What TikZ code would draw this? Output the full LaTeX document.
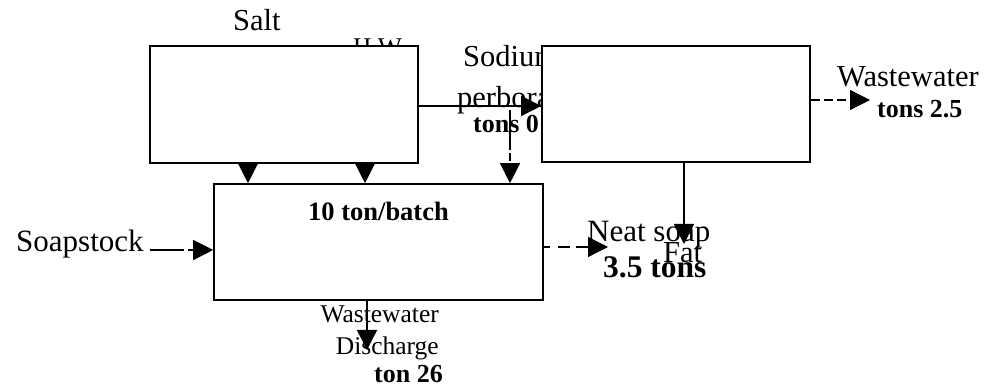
\documentclass[tikz,border=0pt]{standalone}
\usepackage{fontspec}
\setmainfont{Liberation Serif}
\usetikzlibrary{arrows.meta}
\begin{document}
\begin{tikzpicture}[x=1pt,y=-1pt,
  box/.style={draw,line width=1.6pt,fill=white,minimum width=#1,inner sep=0pt},
  lbl/.style={inner sep=0pt,font=\fontsize{30.5}{32}\selectfont},
  slbl/.style={inner sep=0pt,font=\fontsize{25.5}{27}\selectfont},
  blbl/.style={inner sep=0pt,font=\fontsize{26}{28}\selectfont\bfseries},
  arr/.style={line width=1.3pt,-{Triangle[length=20pt,width=20pt]}},
  dsh/.style={dash pattern=on 9pt off 4pt}]
\useasboundingbox (0,0) rectangle (989,390);
% texts hidden behind boxes
\node[slbl,anchor=base west] (hw) at (353,56) {H.W};
\node[lbl,anchor=base west] (sod1) at (463,67) {Sodium};
\node[lbl,anchor=base west] (sod2) at (457,108) {perborate};
% boxes
\node[box=268pt,minimum height=117pt] (b1) at (284,104.5) {};
\node[box=268pt,minimum height=116pt] (b2) at (676,104) {};
\node[box=329pt,minimum height=116pt] (b3) at (378.5,242) {};
% labels
\node[lbl,anchor=base west] (salt) at (233,31) {Salt};
\node[blbl,anchor=base west] (sod3) at (473,133) {tons 0};
\node[lbl,anchor=base west] (ww1) at (837,87) {Wastewater};
\node[blbl,anchor=base west] (ww1t) at (877,118) {tons 2.5};
\node[font=\fontsize{26.5}{28}\selectfont\bfseries,inner sep=0pt,anchor=base west] (cap) at (308,221) {10 ton/batch};
\node[lbl,anchor=base west,font=\fontsize{31}{32}\selectfont] (soap) at (16,252) {Soapstock};
\node[lbl,anchor=base west,font=\fontsize{31}{32}\selectfont] (neat) at (587,242) {Neat soap};
\node[inner sep=0pt,anchor=base west,font=\fontsize{31.5}{33}\selectfont\bfseries] (neatt) at (603,278) {3.5 tons};
\node[lbl,anchor=base west] (fat) at (663,263) {Fat};
\node[slbl,anchor=base east] (ww2) at (439,323) {Wastewater};
\node[slbl,anchor=base east] (ww2b) at (439,355) {Discharge};
\node[blbl,anchor=base east] (ww2t) at (443,382) {ton 26};
% coordinates
\coordinate (c1) at (248,0);
\coordinate (c2) at (365,0);
\coordinate (c3) at (510,110);
\coordinate (c4) at (684,0);
\coordinate (fatend) at (684,244);
\coordinate (wwend) at (870,100);
\coordinate (neatend) at (608,247);
\coordinate (soapstart) at (150,250);
\coordinate (disend) at (367,350);
\coordinate (y106) at (0,106);
% connectors
\draw[arr] (c1 |- b1.south) -- (c1 |- b3.north);
\draw[arr] (c2 |- b1.south) -- (c2 |- b3.north);
\draw[arr] (b1.east |- y106) -- (b2.west |- y106);
\draw[arr,dash pattern=on 40pt off 3pt on 8pt off 4pt on 8pt off 3pt] (c3) -- (c3 |- b3.north);
\draw[arr,dsh] (b2.east |- wwend) -- (wwend);
\draw[arr] (c4 |- b2.south) -- (fatend);
\draw[arr,dash pattern=on 34pt off 4pt on 100pt] (soapstart) -- (b3.west |- soapstart);
\draw[arr,dash pattern=on 6pt off 8pt on 12pt off 6pt on 40pt] (b3.east |- neatend) -- (neatend);
\draw[arr] (disend |- b3.south) -- (disend);
\end{tikzpicture}
\end{document}
